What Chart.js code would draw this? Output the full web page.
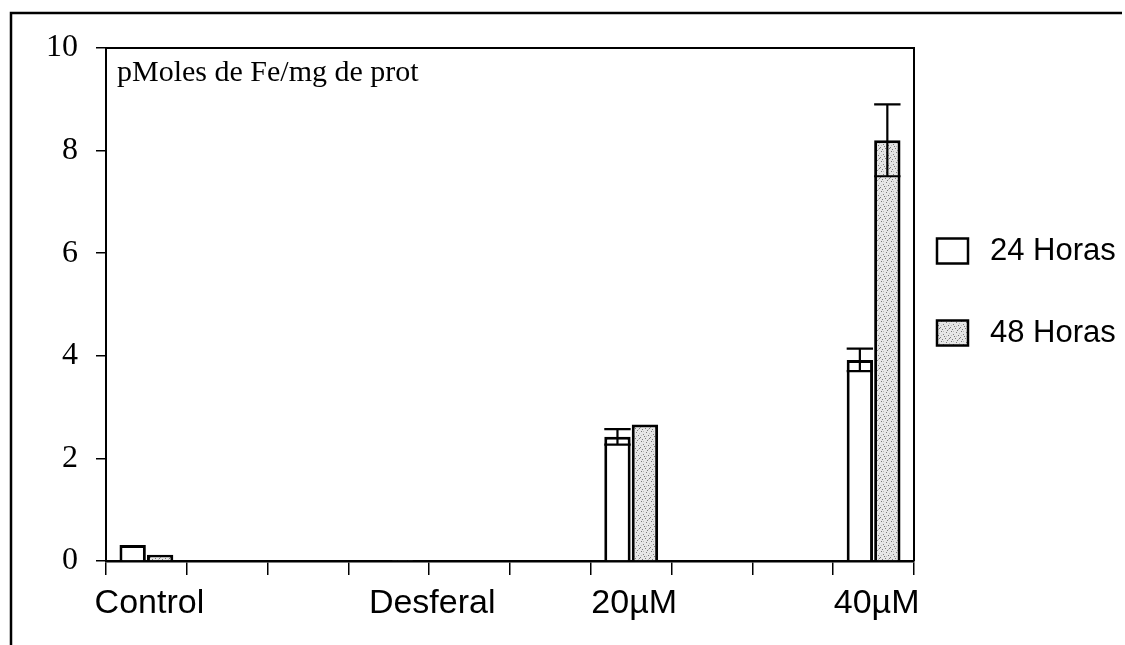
<!DOCTYPE html>
<html lang="es">
<head>
<meta charset="UTF-8">
<title>pMoles de Fe/mg de prot</title>
<script src="https://cdn.jsdelivr.net/npm/chart.js"></script>
<style>
  html, body { margin: 0; padding: 0; background: #fff; }
  #wrap { width: 1125px; height: 645px; position: relative; }
</style>
</head>
<body>
<div id="wrap"><canvas id="ironChart"></canvas></div>
<script>
  // slots along the x axis (10 equal intervals, only 4 are used)
  const slots = ['Control', '', '', 'Desferal', '', '', '20µM', '', '', '40µM'];
  const groupLabels = ['Control', 'Desferal', '20µM', '40µM'];
  const groupLabelAt = [0, 3.5, 6, 9];

  const horas24 = [0.31, null, null, 0, null, null, 2.42, null, null, 3.92];
  const horas48 = [0.12, null, null, 0.02, null, null, 2.66, null, null, 8.2];
  const err24 = [0, 0, 0, 0, 0, 0, 0.15, 0, 0, 0.22];
  const err48 = [0, 0, 0, 0, 0, 0, 0, 0, 0, 0.7];

  const yTicks = [0, 2, 4, 6, 8, 10];

  // speckled grey fill for the 48 h bars
  function speckle() {
    const c = document.createElement('canvas');
    c.width = 10; c.height = 10;
    const g = c.getContext('2d');
    g.fillStyle = '#e6e6e6';
    g.fillRect(0, 0, 10, 10);
    const dots = [[1,1],[6,2],[3,4],[8,5],[0,7],[5,8],[2,9],[7,0],[9,8],[4,6]];
    g.fillStyle = '#7a7a7a';
    dots.forEach(d => g.fillRect(d[0], d[1], 1, 1));
    g.fillStyle = '#bdbdbd';
    [[3,1],[9,3],[1,5],[6,6],[8,9]].forEach(d => g.fillRect(d[0], d[1], 1, 1));
    return g.createPattern(c, 'repeat');
  }

  const errorBars = {
    id: 'errorBars',
    afterDatasetsDraw(chart) {
      const ctx = chart.ctx;
      const y = chart.scales.y;
      const errs = [err24, err48];
      ctx.save();
      ctx.strokeStyle = '#000';
      ctx.lineWidth = 2.2;
      chart.data.datasets.forEach((ds, i) => {
        const meta = chart.getDatasetMeta(i);
        meta.data.forEach((bar, j) => {
          const e = errs[i][j];
          const v = ds.data[j];
          if (!e || v == null) return;
          const top = y.getPixelForValue(v + e);
          const bot = y.getPixelForValue(v - e);
          const half = bar.width / 2;
          ctx.beginPath();
          ctx.moveTo(bar.x, top); ctx.lineTo(bar.x, bot);
          ctx.moveTo(bar.x - half, top); ctx.lineTo(bar.x + half, top);
          ctx.moveTo(bar.x - half, bot); ctx.lineTo(bar.x + half, bot);
          ctx.stroke();
        });
      });
      ctx.restore();
    }
  };

  const frame = {
    id: 'frame',
    beforeDraw(chart) {
      const ctx = chart.ctx;
      ctx.save();
      ctx.strokeStyle = '#000';
      ctx.lineWidth = 2.5;
      ctx.beginPath();
      ctx.moveTo(11, chart.height);
      ctx.lineTo(11, 13);
      ctx.lineTo(1122, 13);
      ctx.stroke();
      ctx.restore();
    },
    afterDraw(chart) {
      const {ctx, chartArea: a, scales} = chart;
      ctx.save();
      // plot box top and right
      ctx.strokeStyle = '#000';
      ctx.lineWidth = 2;
      ctx.beginPath();
      ctx.moveTo(a.left, a.top);
      ctx.lineTo(a.right, a.top);
      ctx.lineTo(a.right, a.bottom);
      ctx.stroke();

      // unit label inside the plot
      ctx.fillStyle = '#000';
      ctx.font = '30px "Liberation Serif", "Times New Roman", serif';
      ctx.textAlign = 'left';
      ctx.textBaseline = 'alphabetic';
      ctx.fillText('pMoles de Fe/mg de prot', a.left + 11, a.top + 33);

      // group labels under the axis
      ctx.font = '34px "Liberation Sans", Arial, sans-serif';
      ctx.textAlign = 'center';
      ctx.textBaseline = 'middle';
      groupLabels.forEach((t, i) => {
        ctx.fillText(t, scales.x.getPixelForValue(groupLabelAt[i]) + 3, a.bottom + 43);
      });

      // legend
      const midY = (a.top + a.bottom) / 2 - 13;
      ctx.font = '31px "Liberation Sans", Arial, sans-serif';
      ctx.textAlign = 'left';
      chart.data.datasets.forEach((ds, i) => {
        const cy = midY + (i === 0 ? -41 : 41);
        const bx = a.right + 23;
        ctx.fillStyle = ds.backgroundColor;
        ctx.fillRect(bx, cy - 12, 31, 25);
        ctx.lineWidth = 2.5;
        ctx.strokeStyle = '#000';
        ctx.strokeRect(bx, cy - 12, 31, 25);
        ctx.fillStyle = '#000';
        ctx.fillText(ds.label, bx + 53, cy + 1);
      });
      ctx.restore();
    }
  };

  new Chart(document.getElementById('ironChart'), {
    type: 'bar',
    data: {
      labels: slots,
      datasets: [
        {
          label: '24 Horas',
          data: horas24,
          backgroundColor: '#ffffff',
          borderColor: '#000',
          borderWidth: 3
        },
        {
          label: '48 Horas',
          data: horas48,
          backgroundColor: speckle(),
          borderColor: '#000',
          borderWidth: 3
        }
      ]
    },
    options: {
      responsive: true,
      maintainAspectRatio: false,
      animation: false,
      layout: { padding: { top: 48, right: 211, left: 0, bottom: 0 } },
      datasets: { bar: { categoryPercentage: 0.68, barPercentage: 0.96 } },
      plugins: {
        legend: { display: false },
        tooltip: { enabled: false }
      },
      scales: {
        x: {
          afterFit(scale) { scale.height = 84; },
          grid: {
            offset: true,
            drawOnChartArea: false,
            color: '#000',
            lineWidth: 1.5,
            tickLength: 14
          },
          border: { display: true, color: '#000', width: 2.5 },
          ticks: { display: false }
        },
        y: {
          min: 0,
          max: 10,
          afterFit(scale) { scale.width = 106; },
          afterBuildTicks(scale) { scale.ticks = yTicks.map(v => ({ value: v })); },
          grid: {
            drawOnChartArea: false,
            color: '#000',
            lineWidth: 1.5,
            tickLength: 10
          },
          border: { display: true, color: '#000', width: 2 },
          ticks: {
            color: '#000',
            padding: 18,
            font: { family: '"Liberation Serif", "Times New Roman", serif', size: 32 }
          }
        }
      }
    },
    plugins: [errorBars, frame]
  });
</script>
</body>
</html>
